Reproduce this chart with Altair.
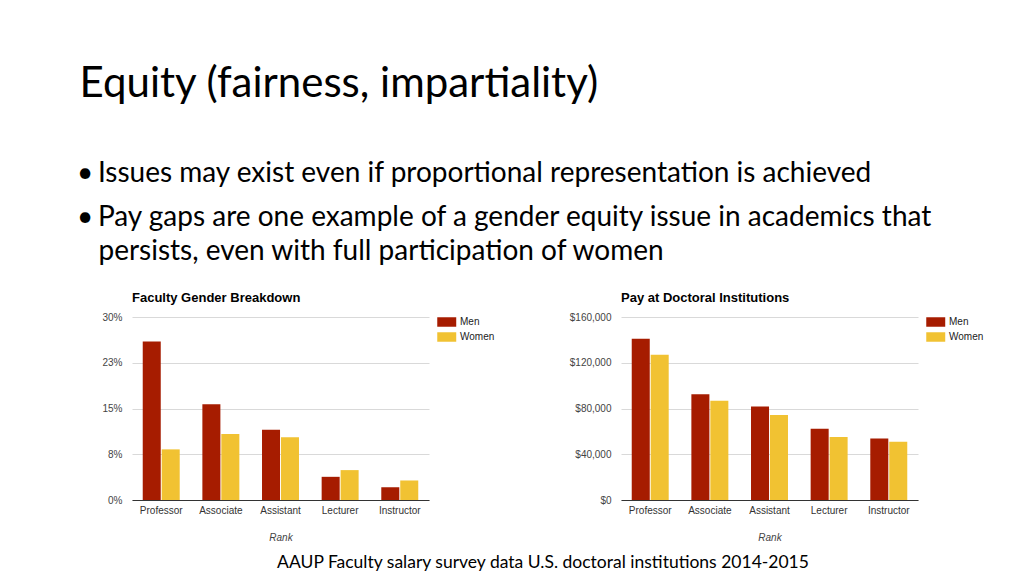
import altair as alt
import pandas as pd

ranks = ["Professor", "Associate", "Assistant", "Lecturer", "Instructor"]
genders = ["Men", "Women"]
share_men = [26.0, 15.7, 11.5, 3.8, 2.1]
share_women = [8.3, 10.8, 10.3, 4.9, 3.2]
pay_men = [141000, 92500, 81700, 62200, 53800]
pay_women = [127100, 86700, 74400, 55000, 50900]
share_ticks = [0, 7.5, 15, 22.5, 30]
pay_ticks = [0, 40000, 80000, 120000, 160000]
colors = ["#A61C00", "#F1C232"]

slide_title = "Equity (fairness, impartiality)"
bullet_1 = "Issues may exist even if proportional representation is achieved"
bullet_2 = ["Pay gaps are one example of a gender equity issue in academics that",
            "persists, even with full participation of women"]
footer = "AAUP Faculty salary survey data U.S. doctoral institutions 2014-2015"

AX = "Liberation Sans"
SF = "Lato"
BUL = "\u2022\u2006"
IND = "\u200b\u00a0\u00a0\u00a0"
LEAD = "\u200b\u200a"


def table(men, women):
    rows = []
    for r, m, w in zip(ranks, men, women):
        rows.append({"rank": r, "gender": "Men", "value": m})
        rows.append({"rank": r, "gender": "Women", "value": w})
    return pd.DataFrame(rows)


def panel(df, title, ticks, domain, label_expr=None, fmt=None):
    yaxis = dict(values=ticks, title=None, domain=False, ticks=False, tickSize=0,
                 labelPadding=10, labelFontSize=10, labelColor="#444", labelFont=AX,
                 gridColor="#d9d9d9")
    if label_expr:
        yaxis["labelExpr"] = label_expr
    if fmt:
        yaxis["format"] = fmt
    return alt.Chart(df).mark_bar().encode(
        x=alt.X("rank:N", sort=ranks, title="Rank",
                scale=alt.Scale(paddingInner=0.38, paddingOuter=0.18),
                axis=alt.Axis(labelAngle=0, ticks=False, tickSize=0, domainColor="#333",
                              labelPadding=5, labelFontSize=10, labelColor="#333",
                              labelFont=AX, titleFont=AX, titleFontSize=10,
                              titleFontStyle="italic", titleFontWeight="normal",
                              titleColor="#444", titlePadding=17)),
        xOffset=alt.XOffset("gender:N", sort=genders,
                            scale=alt.Scale(paddingInner=0.05, paddingOuter=0)),
        y=alt.Y("value:Q", scale=alt.Scale(domain=domain, nice=False, zero=True),
                axis=alt.Axis(**yaxis)),
        color=alt.Color("gender:N", sort=genders,
                        scale=alt.Scale(domain=genders, range=colors),
                        legend=alt.Legend(title=None, orient="right", offset=8,
                                          symbolType="M-1,-1H3V1H-1Z", symbolSize=90,
                                          symbolStrokeWidth=0, labelOffset=13,
                                          labelFont=AX, labelFontSize=10,
                                          labelColor="#222", rowPadding=5)),
    ).properties(width=297, height=183,
                 title=alt.TitleParams(title, anchor="start", frame="group", font=AX,
                                       fontSize=13, fontWeight="bold", color="#000",
                                       offset=7))


left = panel(table(share_men, share_women), "Faculty Gender Breakdown", share_ticks,
             [0, 30], label_expr="round(datum.value) + '%'")
right = panel(table(pay_men, pay_women), "Pay at Doctoral Institutions", pay_ticks,
              [0, 160000], fmt="$,.0f")

hc = alt.hconcat(left, right, spacing=74).resolve_scale(color="independent").properties(
    title=alt.TitleParams(footer, orient="bottom", anchor="middle", font=SF, fontSize=17.5,
                          fontWeight="normal", color="#000", offset=12))

mid = alt.vconcat(hc).properties(
    title=alt.TitleParams([BUL + bullet_2[0], IND + bullet_2[1]], anchor="start",
                          font=SF, fontSize=28, fontWeight="normal", color="#000",
                          lineHeight=34, dx=-25, offset=26))

chart = alt.vconcat(mid).properties(
    title=alt.TitleParams(LEAD + slide_title, subtitle=BUL + bullet_1, anchor="start",
                          font=SF, fontSize=42, fontWeight="normal", color="#000",
                          subtitleFont=SF, subtitleFontSize=28, subtitleColor="#000",
                          subtitlePadding=54, offset=15),
    padding={"left": 68, "top": 55, "right": 5, "bottom": 0},
).configure_view(stroke=None)

chart.save("out.html", embed_options={"renderer": "svg", "actions": False})
